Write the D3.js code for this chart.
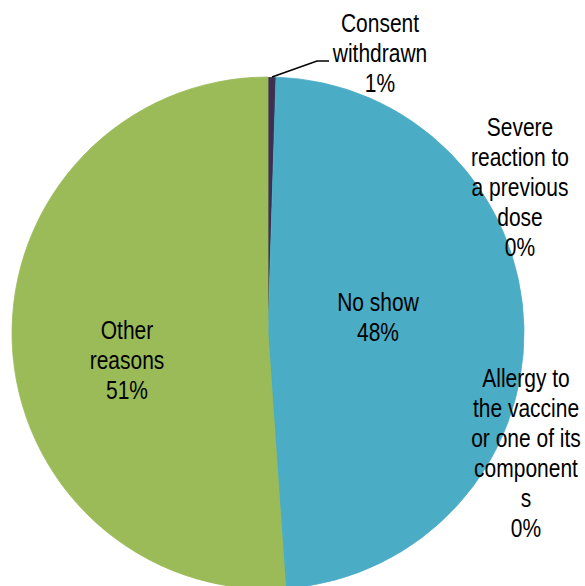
<!DOCTYPE html>
<html>
<head>
<meta charset="utf-8">
<script src="https://cdn.jsdelivr.net/npm/d3@7"></script>
<style>
  body { margin: 0; background: #fff; }
  svg text { font-family: "Liberation Sans", Arial, sans-serif; font-size: 25px; fill: #000; }
</style>
</head>
<body>
<script>
// reasons for not being vaccinated, share of total (%)
var categories = ["Consent withdrawn", "No show", "Severe reaction to a previous dose",
                  "Allergy to the vaccine or one of its components", "Other reasons"];
var values = [0.5, 48.3, 0.05, 0.05, 51.1];
var pctLabels = ["1%", "48%", "0%", "0%", "51%"];
var colors = ["#3d3052", "#4bacc6", "#4bacc6", "#4bacc6", "#9bbb59"];

// how the label text is wrapped, as in the original chart
var labelLines = [
    ["Consent", "withdrawn"],
    ["No show"],
    ["Severe", "reaction to", "a previous", "dose"],
    ["Allergy to", "the vaccine", "or one of its", "component", "s"],
    ["Other", "reasons"]
];
// label centres (first line) in page pixels
var labelPos = [[380, 23], [378, 302], [520, 127], [526, 378], [127, 330]];

window.onload = function(){
    drawPie();
};

function drawPie(){
    var width = 585, height = 586;
    var cx = 268, cy = 333, r = 256;
    var lineH = 30;
    var narrow = 0.84;   // Arial Narrow look-alike

    var svg = d3.select("body").append("svg")
        .attr("width", width)
        .attr("height", height);

    var g = svg.append("g").attr("transform", "translate(" + cx + "," + cy + ")");

    var data = categories.map(function(c, i){
        return { name: c, value: values[i], pct: pctLabels[i], color: colors[i] };
    });

    var pie = d3.pie()
        .sort(null)
        .value(function(d){ return d.value; });

    var arc = d3.arc()
        .innerRadius(0)
        .outerRadius(r);

    g.selectAll(".slice")
        .data(pie(data))
        .enter()
        .append("path")
        .attr("class", "slice")
        .attr("d", arc)
        .attr("fill", function(d){ return d.data.color; })
        // hide the hairline seams of the near-zero slices
        .attr("stroke", function(d, i){ return i == 0 ? "none" : d.data.color; })
        .attr("stroke-width", 0.8);

    // leader line for the tiny "Consent withdrawn" slice
    var first = pie(data)[0];
    var mid = (first.startAngle + first.endAngle) / 2;
    var p0 = [cx + Math.sin(mid) * r, cy - Math.cos(mid) * r];
    svg.append("polyline")
        .attr("points", [p0, [317, 61], [329, 61]].map(function(p){ return p.join(","); }).join(" "))
        .attr("fill", "none")
        .attr("stroke", "#000")
        .attr("stroke-width", 1.5);

    // labels
    var labels = svg.selectAll(".label")
        .data(data)
        .enter()
        .append("g")
        .attr("class", "label")
        .attr("transform", function(d, i){
            return "translate(" + labelPos[i][0] + "," + labelPos[i][1] + ") scale(" + narrow + ",1)";
        })
        .append("text")
        .attr("text-anchor", "middle");

    labels.each(function(d, i){
        var t = d3.select(this);
        var lines = labelLines[i].concat([d.pct]);
        lines.forEach(function(line, k){
            t.append("tspan")
                .attr("x", 0)
                .attr("y", k * lineH)
                .attr("dy", "0.35em")
                .text(line);
        });
    });
}
</script>
</body>
</html>
